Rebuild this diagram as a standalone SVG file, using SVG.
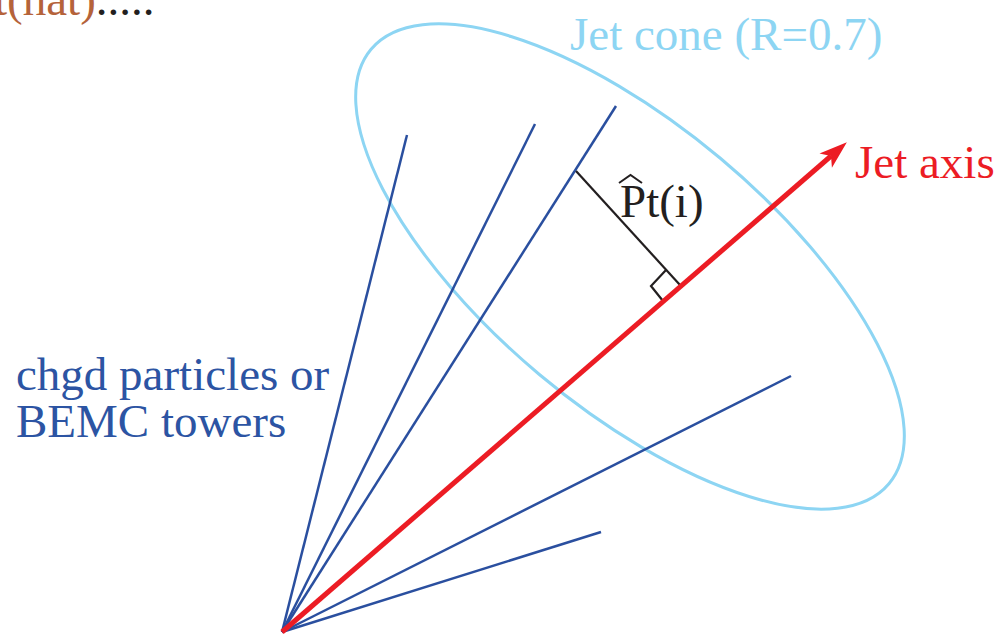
<svg xmlns="http://www.w3.org/2000/svg" width="1000" height="634" viewBox="0 0 1000 634">
<style>
text{font-family:'Liberation Serif','Times New Roman',Times,serif;font-size:47px}
.blue{stroke:#2a4f9f;stroke-width:2.5;fill:none}
</style>
<defs>
<marker id="arr" viewBox="-8 -10 30 20" markerWidth="30" markerHeight="20" refX="0" refY="0" markerUnits="userSpaceOnUse" orient="auto">
<path d="M21,0 L-7,-9.5 L0,0 L-7,9.5 Z" fill="#ec1c24"/>
</marker>
</defs>
<rect width="1000" height="634" fill="#fff"/>
<text x="-6" y="15" fill="#b5633a" font-family="Liberation Serif, serif">t(hat)<tspan fill="#231f20">.....</tspan></text>
<g id="cone">
<ellipse cx="630" cy="266.5" rx="338" ry="141" transform="rotate(40 630 266.5)" fill="none" stroke="#8dd5f3" stroke-width="3"/>
<text x="570" y="50" fill="#8dd5f3" font-family="Liberation Serif, serif">Jet cone (R=0.7)</text>
</g>
<g id="connectors">
<line class="blue" x1="282" y1="632" x2="407" y2="135"/>
<line class="blue" x1="282" y1="632" x2="535" y2="124"/>
<line class="blue" x1="282" y1="632" x2="616" y2="106"/>
<line class="blue" x1="282" y1="632" x2="791" y2="376"/>
<line class="blue" x1="282" y1="632" x2="601" y2="532"/>
<line x1="576" y1="171" x2="680" y2="285" stroke="#231f20" stroke-width="2.2"/>
<polyline points="666,270 651,286 663,301" fill="none" stroke="#231f20" stroke-width="2.2"/>
<line x1="282" y1="632" x2="831" y2="156" stroke="#ec1c24" stroke-width="5" marker-end="url(#arr)"/>
</g>
<g id="axis-label">
<text x="855" y="178" fill="#ec1c24" font-family="Liberation Serif, serif">Jet axis</text>
</g>
<g id="pt-label">
<text x="620" y="217" fill="#231f20" font-family="Liberation Serif, serif">Pt(i)</text>
<polyline points="619,183 630.5,175 642,183" fill="none" stroke="#231f20" stroke-width="2"/>
</g>
<g id="particles-label">
<text x="16" y="390" fill="#2c54a3" font-family="Liberation Serif, serif">chgd particles or</text>
<text x="16" y="437" fill="#2c54a3" font-family="Liberation Serif, serif">BEMC towers</text>
</g>
</svg>
